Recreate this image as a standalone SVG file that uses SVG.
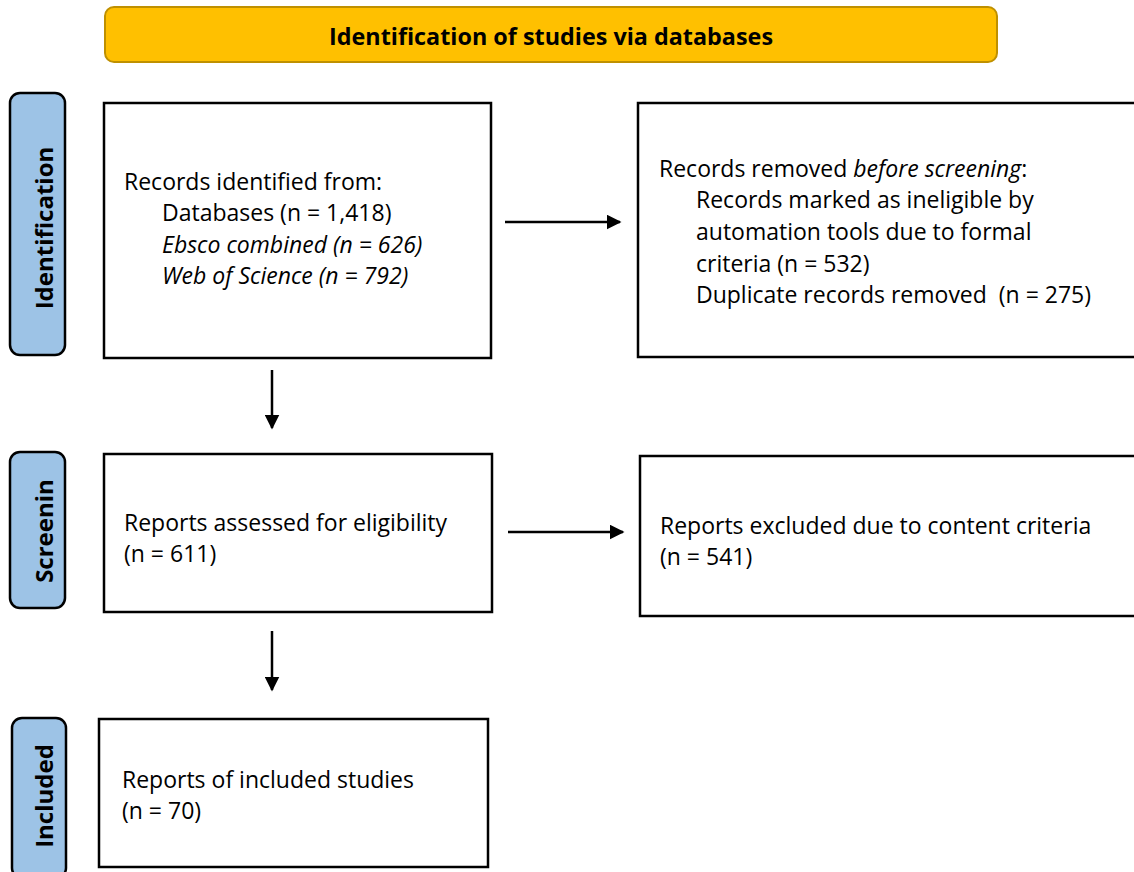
<svg xmlns="http://www.w3.org/2000/svg" width="1134" height="872" viewBox="0 0 1134 872">
<defs>
<style>
.box{fill:#fff;stroke:#000;stroke-width:2.5}
.side{fill:#9DC3E6;stroke:#000;stroke-width:2.5}
.t{font-family:"Open Sans","Noto Sans",sans-serif;font-size:23px;fill:#000}
.b{font-family:"Open Sans","Noto Sans",sans-serif;font-size:24px;font-weight:bold;fill:#000}
.c{stroke:#000;stroke-width:2.5;fill:none}
</style>
<marker id="ah" viewBox="0 0 10 10" refX="9" refY="5" markerWidth="6" markerHeight="6" markerUnits="strokeWidth" orient="auto">
<path d="M0,0 L10,5 L0,10 z" fill="#000"/>
</marker>
</defs>
<rect width="1134" height="872" fill="#fff"/>
<g id="header">
<rect x="105" y="7" width="892" height="55" rx="9" fill="#FFC000" stroke="#BF9000" stroke-width="2"/>
<text class="b" x="551" y="45" text-anchor="middle" textLength="444" lengthAdjust="spacingAndGlyphs">Identification of studies via databases</text>
</g>
<g id="label-identification">
<rect class="side" x="10" y="93" width="55" height="262" rx="10"/>
<text class="b" transform="translate(53,228) rotate(-90)" text-anchor="middle">Identification</text>
</g>
<g id="label-screening">
<rect class="side" x="10" y="452" width="55" height="156" rx="10"/>
<text class="b" transform="translate(53,531) rotate(-90)" text-anchor="middle">Screenin</text>
</g>
<g id="label-included">
<rect class="side" x="12" y="718" width="54" height="160" rx="10"/>
<text class="b" transform="translate(53,796) rotate(-90)" text-anchor="middle">Included</text>
</g>
<g id="records-identified">
<rect class="box" x="104" y="103" width="387" height="255"/>
<text class="t" x="124" y="190">Records identified from:</text>
<text class="t" x="162" y="221">Databases (n = 1,418)</text>
<text class="t" x="162" y="253" font-style="italic">Ebsco combined (n = 626)</text>
<text class="t" x="162" y="284" font-style="italic">Web of Science (n = 792)</text>
</g>
<g id="records-removed">
<rect class="box" x="638" y="103" width="510" height="254"/>
<text class="t" x="659" y="177">Records removed <tspan font-style="italic">before screening</tspan>:</text>
<text class="t" x="696" y="208">Records marked as ineligible by</text>
<text class="t" x="696" y="240">automation tools due to formal</text>
<text class="t" x="696" y="272">criteria (n = 532)</text>
<text class="t" x="696" y="303" xml:space="preserve">Duplicate records removed  (n = 275)</text>
</g>
<g id="reports-assessed">
<rect class="box" x="104" y="454" width="388" height="158"/>
<text class="t" x="124" y="531">Reports assessed for eligibility</text>
<text class="t" x="124" y="562">(n = 611)</text>
</g>
<g id="reports-excluded">
<rect class="box" x="640" y="456" width="510" height="160"/>
<text class="t" x="660" y="534">Reports excluded due to content criteria</text>
<text class="t" x="660" y="565">(n = 541)</text>
</g>
<g id="reports-included">
<rect class="box" x="99" y="719" width="389" height="148"/>
<text class="t" x="122" y="788">Reports of included studies</text>
<text class="t" x="122" y="819">(n = 70)</text>
</g>
<g id="connectors">
<line class="c" x1="505" y1="222" x2="620" y2="222" marker-end="url(#ah)"/>
<line class="c" x1="508" y1="532" x2="623" y2="532" marker-end="url(#ah)"/>
<line class="c" x1="272" y1="370" x2="272" y2="428" marker-end="url(#ah)"/>
<line class="c" x1="272" y1="631" x2="272" y2="690" marker-end="url(#ah)"/>
</g>
</svg>
